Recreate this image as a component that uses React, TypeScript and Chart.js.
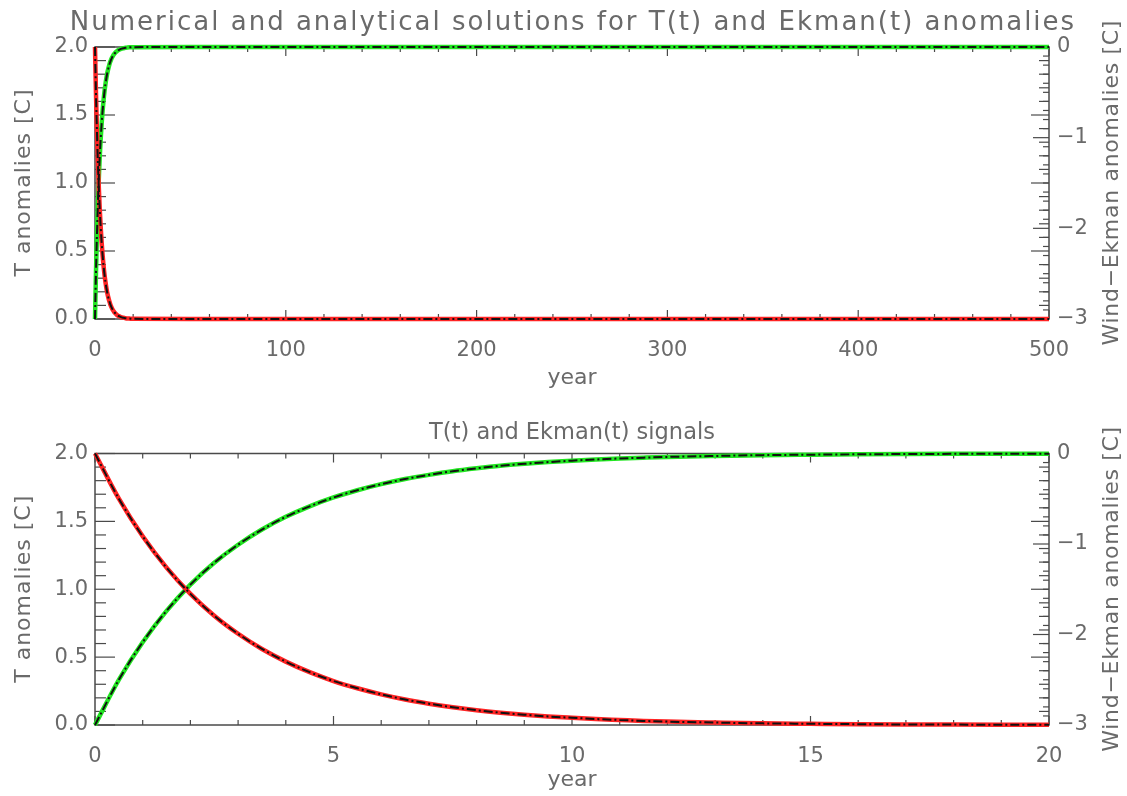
import React, { useEffect, useRef } from 'react';
import { Chart, registerables } from 'chart.js';

Chart.register(...registerables);

// ---- data ----
const years = [0, 0.5, 1, 1.5, 2, 2.5, 3, 3.5, 4, 4.5, 5, 5.5, 6, 6.5, 7, 7.5, 8, 8.5, 9, 9.5, 10, 10.5, 11, 11.5, 12, 13, 14, 15, 16, 17, 18, 19, 20];
const tAnomaly = [2.0, 1.667, 1.390, 1.159, 0.966, 0.805, 0.672, 0.560, 0.467, 0.389, 0.324, 0.271, 0.226, 0.188, 0.157, 0.131, 0.109, 0.091, 0.076, 0.063, 0.053, 0.044, 0.037, 0.030, 0.025, 0.018, 0.012, 0.009, 0.006, 0.004, 0.003, 0.002, 0.001];
const ekmanAnomaly = [-3.0, -2.500, -2.085, -1.739, -1.449, -1.208, -1.008, -0.840, -0.700, -0.584, -0.486, -0.406, -0.339, -0.282, -0.236, -0.196, -0.164, -0.136, -0.114, -0.095, -0.079, -0.066, -0.055, -0.046, -0.038, -0.027, -0.018, -0.013, -0.009, -0.006, -0.004, -0.003, -0.002];
const tailYears = [50, 100, 200, 300, 400, 500];
const tTail = [0, 0, 0, 0, 0, 0];
const ekmanTail = [0, 0, 0, 0, 0, 0];

const longXTicks = [0, 100, 200, 300, 400, 500];
const shortXTicks = [0, 5, 10, 15, 20];
const tTicks = [0, 0.5, 1.0, 1.5, 2.0];
const ekmanTicks = [-3, -2, -1, 0];

const topTitle = 'Numerical and analytical solutions for T(t) and Ekman(t) anomalies';
const bottomTitle = 'T(t) and Ekman(t) signals';
const xTitle = 'year';
const leftTitle = 'T anomalies [C]';
const rightTitle = 'Wind\u2212Ekman anomalies [C]';

const FONT = "'DejaVu Sans', sans-serif";
const TEXT = '#6a6a6a';
const AXIS = '#4a4a4a';
const RED = '#ff2424';
const GREEN = '#22e622';

function drawText(ctx: any, text: string, x: number, y: number, size: number, spacing: number, rot: number) {
  ctx.save();
  ctx.font = `${size}px ${FONT}`;
  ctx.fillStyle = TEXT;
  ctx.letterSpacing = `${spacing}px`;
  ctx.textAlign = 'center';
  ctx.textBaseline = 'middle';
  ctx.translate(x, y);
  ctx.rotate(rot);
  ctx.fillText(text, spacing / 2, 0);
  ctx.restore();
}

const idlAxes = {
  id: 'idlAxes',
  beforeDatasetsDraw(chart: any, _args: any, opts: any) {
    const { ctx, chartArea, scales } = chart;
    const { left, right, top, bottom } = chartArea;
    ctx.save();
    ctx.strokeStyle = AXIS;
    ctx.lineWidth = 1.5;
    ctx.strokeRect(left, top, right - left, bottom - top);
    ctx.lineWidth = 1.2;
    const line = (x1: number, y1: number, x2: number, y2: number) => {
      ctx.beginPath();
      ctx.moveTo(x1, y1);
      ctx.lineTo(x2, y2);
      ctx.stroke();
    };
    const each = (min: number, max: number, step: number, fn: (v: number, i: number) => void) => {
      const n = Math.round((max - min) / step);
      for (let i = 0; i <= n; i++) fn(min + i * step, i);
    };
    const xs = scales.x;
    each(xs.min, xs.max, opts.xMinor, (v, i) => {
      const px = xs.getPixelForValue(v);
      const major = i % opts.xPer === 0;
      const len = major ? 9 : 5;
      line(px, bottom, px, bottom - len);
      line(px, top, px, top + len);
    });
    const yl = scales.y;
    each(yl.min, yl.max, 0.1, (v, i) => {
      const py = yl.getPixelForValue(v);
      const major = i % 5 === 0;
      line(left, py, left + (major ? 20 : 11), py);
      line(right, py, right - (major ? 18 : 10), py);
    });
    const yr = scales.y2;
    each(yr.min, yr.max, 0.1, (v, i) => {
      const py = yr.getPixelForValue(v);
      const major = i % 10 === 0;
      line(right, py, right - (major ? 16 : 6), py);
    });
    ctx.restore();
  },
  afterDraw(chart: any, _args: any, opts: any) {
    const { ctx, chartArea } = chart;
    const midY = (chartArea.top + chartArea.bottom) / 2;
    const midX = (chartArea.left + chartArea.right) / 2;
    if (opts.long) drawText(ctx, topTitle, midX, 23, 26, 2, 0);
    else drawText(ctx, bottomTitle, midX, 35, 22.5, 0, 0);
    drawText(ctx, leftTitle, 24, midY, 22, 1, -Math.PI / 2);
    drawText(ctx, rightTitle, 1112, midY, 22, 0.7, -Math.PI / 2);
  },
};

function makeConfig(long: boolean): any {
  const xs = long ? [...years, ...tailYears] : years;
  const ts = long ? [...tAnomaly, ...tTail] : tAnomaly;
  const es = long ? [...ekmanAnomaly, ...ekmanTail] : ekmanAnomaly;
  const tPts = xs.map((x, i) => ({ x, y: ts[i] }));
  const ePts = xs.map((x, i) => ({ x, y: es[i] }));
  const base = { pointRadius: 0, fill: false, cubicInterpolationMode: 'monotone', clip: 6 };
  const tickFont = { family: FONT, size: 21 };
  return {
    type: 'line',
    data: {
      datasets: [
        { ...base, label: 'T analytical', data: tPts, yAxisID: 'y', borderColor: '#111', borderWidth: 2, borderDash: [9, 3, 2, 3] },
        { ...base, label: 'Ekman analytical', data: ePts, yAxisID: 'y2', borderColor: '#111', borderWidth: 2, borderDash: [9, 3, 2, 3] },
        { ...base, label: 'T numerical', data: tPts, yAxisID: 'y', borderColor: RED, borderWidth: 4.5 },
        { ...base, label: 'Ekman numerical', data: ePts, yAxisID: 'y2', borderColor: GREEN, borderWidth: 4.5 },
      ],
    },
    options: {
      responsive: false,
      animation: false,
      devicePixelRatio: 1,
      layout: { padding: { top: long ? 47 : 55.5, left: 0, right: 0, bottom: 0 } },
      plugins: {
        legend: { display: false },
        tooltip: { enabled: false },
        title: { display: false },
        idlAxes: { xMinor: long ? 20 : 1, xPer: 5, long },
      },
      scales: {
        x: {
          type: 'linear',
          min: 0,
          max: long ? 500 : 20,
          afterBuildTicks: (s: any) => { s.ticks = (long ? longXTicks : shortXTicks).map((value) => ({ value })); },
          grid: { display: false, drawTicks: false },
          border: { display: false },
          ticks: { color: TEXT, font: tickFont, padding: 19, maxRotation: 0, autoSkip: false },
          title: { display: true, text: xTitle, color: TEXT, font: { family: FONT, size: 22 }, padding: { top: 0, bottom: long ? 6.8 : 2.8 } },
          afterFit: (s: any) => { s.height = long ? 79 : 71; },
        },
        y: {
          position: 'left',
          min: 0,
          max: 2.0,
          afterBuildTicks: (s: any) => { s.ticks = tTicks.map((value) => ({ value })); },
          grid: { display: false, drawTicks: false },
          border: { display: false },
          ticks: { color: TEXT, font: tickFont, padding: 7, callback: (v: any) => Number(v).toFixed(1) },
          afterFit: (s: any) => { s.width = 95; },
        },
        y2: {
          position: 'right',
          min: -3,
          max: 0,
          afterBuildTicks: (s: any) => { s.ticks = ekmanTicks.map((value) => ({ value })); },
          grid: { display: false, drawTicks: false },
          border: { display: false },
          ticks: { color: TEXT, font: tickFont, padding: 8, callback: (v: any) => (v < 0 ? '\u2212' + Math.abs(v) : String(v)) },
          afterFit: (s: any) => { s.width = 78; },
        },
      },
    },
    plugins: [idlAxes],
  };
}

function Panel({ long }: { long: boolean }) {
  const ref = useRef<HTMLCanvasElement>(null);
  useEffect(() => {
    if (!ref.current) return;
    const chart = new Chart(ref.current, makeConfig(long));
    return () => chart.destroy();
  }, [long]);
  return <canvas ref={ref} width={1127} height={398} style={{ display: 'block', width: 1127, height: 398 }} />;
}

export default function App() {
  return (
    <div style={{ position: 'fixed', left: 0, top: 0, width: 1127, height: 796, background: '#fff' }}>
      <Panel long={true} />
      <Panel long={false} />
    </div>
  );
}
